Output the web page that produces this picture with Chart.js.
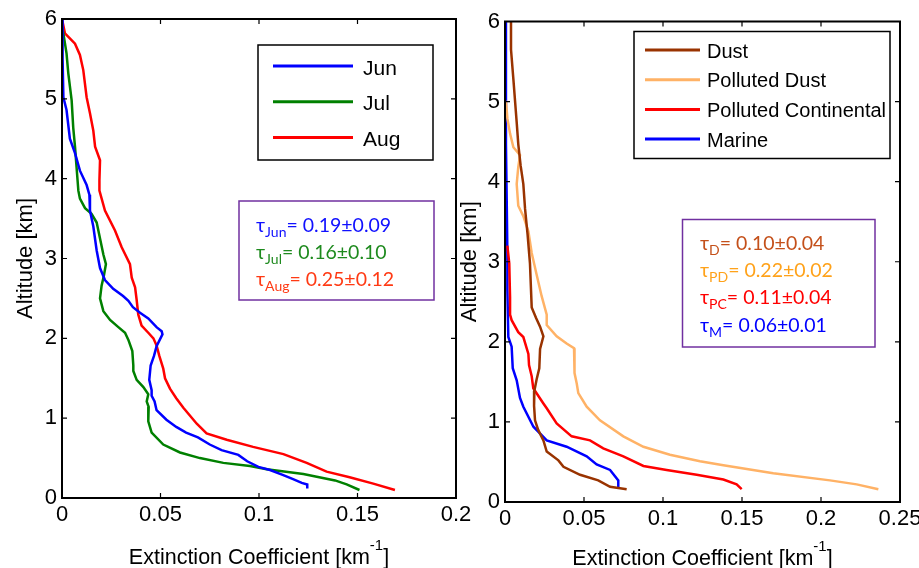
<!DOCTYPE html>
<html>
<head>
<meta charset="utf-8">
<script src="https://cdn.jsdelivr.net/npm/chart.js@4.4.0/dist/chart.umd.min.js"></script>
<style>
html,body{margin:0;padding:0;background:#fff;}
#wrap{position:relative;width:919px;height:568px;overflow:hidden;background:#fff;}
#c1{position:absolute;left:0;top:0;}
#c2{position:absolute;left:440px;top:0;}
</style>
</head>
<body>
<div id="wrap">
<canvas id="c1" width="480" height="568"></canvas>
<canvas id="c2" width="479" height="568"></canvas>
</div>
<script>
// ---------- DATA ----------
const altTicks = [0, 1, 2, 3, 4, 5, 6];
const extTicksLeft = [0, 0.05, 0.1, 0.15, 0.2];
const extTicksRight = [0, 0.05, 0.1, 0.15, 0.2, 0.25];
const xTitleMain = 'Extinction Coefficient [km';
const xTitleSup = '-1';
const xTitleEnd = ']';
const yTitle = 'Altitude [km]';

// Left panel: monthly profiles
const monthLabels = ['Jun', 'Jul', 'Aug'];
const junExt = [0,0.0003,0.0007,0.0023,0.004,0.0066,0.0091,0.0125,0.0139,0.0142,0.0159,0.0176,0.0193,0.0218,0.026,0.031,0.0337,0.036,0.0396,0.0438,0.048,0.0506,0.051,0.048,0.0467,0.045,0.0443,0.0455,0.0455,0.047,0.048,0.053,0.058,0.063,0.069,0.075,0.081,0.0895,0.094,0.0997,0.1056,0.112,0.117,0.1217,0.1245,0.1245];
const junAlt = [6.0,5.5,5.02,4.86,4.5,4.32,4.1,3.92,3.8,3.6,3.4,3.1,2.88,2.73,2.62,2.53,2.47,2.39,2.32,2.25,2.14,2.09,2.05,1.9,1.78,1.66,1.48,1.35,1.28,1.21,1.1,0.98,0.89,0.82,0.76,0.67,0.6,0.54,0.46,0.39,0.35,0.29,0.24,0.19,0.17,0.12];
const julExt = [0,0.0007,0.0023,0.0032,0.0049,0.0057,0.0066,0.0074,0.0083,0.0091,0.0117,0.015,0.0176,0.0193,0.021,0.0223,0.0213,0.0201,0.0193,0.021,0.0244,0.0286,0.032,0.0337,0.0357,0.0362,0.0362,0.0379,0.0413,0.0438,0.043,0.044,0.0438,0.0455,0.0514,0.0599,0.07,0.0819,0.0954,0.1039,0.1225,0.1386,0.1445,0.151];
const julAlt = [5.9,5.82,5.57,5.32,4.98,4.64,4.4,4.14,3.85,3.75,3.63,3.56,3.45,3.25,3.05,2.93,2.79,2.66,2.5,2.34,2.23,2.14,2.07,1.98,1.84,1.66,1.59,1.48,1.39,1.3,1.21,1.14,0.96,0.82,0.67,0.57,0.5,0.44,0.4,0.36,0.3,0.22,0.17,0.1];
const augExt = [0,0.0015,0.0066,0.0091,0.0108,0.0125,0.0142,0.0159,0.0168,0.0193,0.019,0.019,0.0218,0.0269,0.0303,0.0345,0.0354,0.0371,0.0379,0.0387,0.0404,0.0438,0.0464,0.048,0.0494,0.0514,0.0523,0.0548,0.058,0.0616,0.0684,0.0734,0.0836,0.097,0.1124,0.1242,0.1343,0.146,0.158,0.169];
const augAlt = [6.0,5.82,5.69,5.55,5.36,5.02,4.82,4.6,4.4,4.23,3.98,3.85,3.6,3.35,3.14,2.93,2.76,2.64,2.48,2.3,2.16,2.07,2.0,1.91,1.78,1.62,1.5,1.37,1.25,1.13,0.93,0.81,0.73,0.64,0.55,0.44,0.33,0.26,0.18,0.1];
const tauMonthSub = ['Jun', 'Jul', 'Aug'];
const tauMonthVal = ['0.19', '0.16', '0.25'];
const tauMonthErr = ['0.09', '0.10', '0.12'];

// Right panel: aerosol types
const typeLabels = ['Dust', 'Polluted Dust', 'Polluted Continental', 'Marine'];
const dustExt = [0.0038,0.0038,0.0053,0.0074,0.0084,0.0099,0.0116,0.0127,0.0143,0.0158,0.0169,0.0196,0.0222,0.0243,0.0222,0.0217,0.02,0.0186,0.0184,0.019,0.021,0.0243,0.0264,0.0338,0.037,0.0475,0.059,0.0665,0.077];
const dustAlt = [6.0,5.65,5.28,4.74,4.47,4.2,3.97,3.66,3.34,2.98,2.43,2.3,2.19,2.07,1.91,1.67,1.53,1.39,1.2,1.02,0.9,0.77,0.63,0.52,0.44,0.34,0.27,0.19,0.16];
const pdustExt = [0.0006,0.0015,0.0032,0.0053,0.0095,0.0084,0.0074,0.0084,0.0116,0.0148,0.0169,0.02,0.0232,0.0264,0.0264,0.0327,0.039,0.0437,0.0437,0.0443,0.0454,0.0464,0.0517,0.0601,0.0749,0.0876,0.1044,0.1234,0.1382,0.1698,0.2057,0.2226,0.2363];
const pdustAlt = [5.01,4.79,4.6,4.43,4.33,4.18,3.97,3.7,3.57,3.38,3.11,2.84,2.57,2.34,2.21,2.07,1.98,1.92,1.76,1.61,1.48,1.36,1.19,1.02,0.82,0.69,0.59,0.51,0.46,0.36,0.27,0.22,0.16];
const pcontExt = [0.0015,0.0027,0.0032,0.0032,0.0042,0.0084,0.0116,0.0148,0.0152,0.0169,0.0179,0.0243,0.0264,0.0327,0.0422,0.0538,0.0622,0.0749,0.0876,0.1023,0.1213,0.1382,0.1466,0.1498];
const pcontAlt = [3.2,2.98,2.56,2.34,2.27,2.12,2.06,1.85,1.71,1.57,1.42,1.23,1.17,0.98,0.82,0.77,0.67,0.57,0.45,0.4,0.34,0.28,0.22,0.16];
const marineExt = [0.0006,0.0006,0.0011,0.0015,0.0015,0.0021,0.0042,0.0049,0.0074,0.0095,0.0116,0.018,0.0264,0.039,0.0517,0.058,0.0665,0.0717,0.0717];
const marineAlt = [6.0,4.47,3.75,3.11,2.66,2.06,1.94,1.67,1.52,1.3,1.19,0.94,0.77,0.69,0.57,0.47,0.4,0.27,0.17];
const tauTypeSub = ['D', 'PD', 'PC', 'M'];
const tauTypeVal = ['0.10', '0.22', '0.11', '0.06'];
const tauTypeErr = ['0.04', '0.02', '0.04', '0.01'];

// ---------- STYLES ----------
const monthColors = ['#0000FF', '#008000', '#FF0000'];
const monthTauColors = ['#1010FF', '#1E8A1E', '#FF3A14'];
const typeColors = ['#993300', '#FFB266', '#FF0000', '#0000FF'];
const typeTauColors = ['#C4501A', '#FFA21A', '#FF0000', '#0000FF'];
const AX_FONT = '"Liberation Sans", Arial, Helvetica, sans-serif';
const TAU_FONT = 'Lato, "Open Sans", sans-serif';

function pts(xs, ys) { return xs.map((v, i) => ({ x: v, y: ys[i] })); }
function mkSet(label, xs, ys, color) {
  return { label, data: pts(xs, ys), borderColor: color, backgroundColor: color,
           borderWidth: 2.5, pointRadius: 0, showLine: true, fill: false, tension: 0 };
}

const decor = {
  id: 'decor',
  afterDatasetsDraw(chart, args, o) {
    const ctx = chart.ctx, a = chart.chartArea, xs = chart.scales.x, ys = chart.scales.y;
    ctx.save();
    // inward ticks on all four sides
    ctx.strokeStyle = '#000'; ctx.lineWidth = 1.2;
    ctx.beginPath();
    xs.ticks.forEach(t => {
      const p = xs.getPixelForValue(t.value);
      ctx.moveTo(p, a.bottom); ctx.lineTo(p, a.bottom - 5);
      ctx.moveTo(p, a.top); ctx.lineTo(p, a.top + 5);
    });
    ys.ticks.forEach(t => {
      const p = ys.getPixelForValue(t.value);
      ctx.moveTo(a.left, p); ctx.lineTo(a.left + 5, p);
      ctx.moveTo(a.right, p); ctx.lineTo(a.right - 5, p);
    });
    ctx.stroke();
    // box
    ctx.lineWidth = 2;
    ctx.strokeRect(a.left, a.top, a.right - a.left, a.bottom - a.top);

    // legend
    const L = o.legend;
    ctx.fillStyle = '#fff';
    ctx.fillRect(L.x, L.y, L.w, L.h);
    ctx.lineWidth = 1.5; ctx.strokeStyle = '#000';
    ctx.strokeRect(L.x, L.y, L.w, L.h);
    ctx.font = L.font + 'px ' + AX_FONT;
    ctx.textBaseline = 'middle'; ctx.textAlign = 'left';
    chart.data.datasets.forEach((ds, i) => {
      const yy = L.row0 + i * L.gap;
      ctx.strokeStyle = ds.borderColor; ctx.lineWidth = 3;
      ctx.beginPath(); ctx.moveTo(L.l1, yy); ctx.lineTo(L.l2, yy); ctx.stroke();
      ctx.fillStyle = '#000';
      ctx.fillText(ds.label, L.tx, yy + L.toff);
    });

    // tau box
    const T = o.tau;
    ctx.lineWidth = 1.5; ctx.strokeStyle = '#7030A0';
    ctx.strokeRect(T.x, T.y, T.w, T.h);
    ctx.textBaseline = 'alphabetic';
    T.sub.forEach((s, i) => {
      const by = T.base0 + i * T.gap;
      let xx = T.tx;
      ctx.fillStyle = T.colors[i];
      ctx.font = T.font + 'px ' + TAU_FONT;
      ctx.fillText('\u03C4', xx, by); xx += ctx.measureText('\u03C4').width;
      ctx.font = T.subFont + 'px ' + TAU_FONT;
      ctx.fillText(s, xx, by + 5); xx += ctx.measureText(s).width;
      ctx.font = T.font + 'px ' + TAU_FONT;
      ctx.fillText('= ' + T.val[i] + '\u00B1' + T.err[i], xx, by);
    });

    // x axis title with superscript
    ctx.fillStyle = '#000';
    const mf = o.titleFont + 'px ' + AX_FONT, sf = Math.round(o.titleFont * 0.68) + 'px ' + AX_FONT;
    ctx.font = mf; const w1 = ctx.measureText(xTitleMain).width, w3 = ctx.measureText(xTitleEnd).width;
    ctx.font = sf; const w2 = ctx.measureText(xTitleSup).width;
    let sx = (a.left + a.right) / 2 - (w1 + w2 + w3) / 2;
    ctx.font = mf; ctx.fillText(xTitleMain, sx, o.xTitleBase); sx += w1;
    ctx.font = sf; ctx.fillText(xTitleSup, sx, o.xTitleBase - 14); sx += w2;
    ctx.font = mf; ctx.fillText(xTitleEnd, sx, o.xTitleBase);

    // y axis title
    ctx.save();
    ctx.translate(o.yTitleX, (a.top + a.bottom) / 2);
    ctx.rotate(-Math.PI / 2);
    ctx.textAlign = 'center'; ctx.textBaseline = 'alphabetic';
    ctx.font = o.yTitleFont + 'px ' + AX_FONT;
    ctx.fillText(yTitle, 0, 0);
    ctx.restore();

    ctx.restore();
  }
};

function build(id, datasets, xMax, xTicks, geo, decorOpts) {
  const tickFont = { family: AX_FONT, size: 22 };
  return new Chart(document.getElementById(id), {
    type: 'scatter',
    data: { datasets },
    plugins: [decor],
    options: {
      responsive: false, animation: false, devicePixelRatio: 1,
      layout: { padding: { left: 0, top: geo.top, right: geo.right, bottom: 0 } },
      plugins: { legend: { display: false }, tooltip: { enabled: false }, decor: decorOpts },
      scales: {
        x: {
          type: 'linear', min: 0, max: xMax, position: 'bottom',
          grid: { display: false, drawTicks: false }, border: { display: false },
          afterBuildTicks: s => { s.ticks = xTicks.map(v => ({ value: v })); },
          afterFit: s => { s.height = geo.xAxisH; s.paddingLeft = 0; s.paddingRight = 0; },
          ticks: { font: tickFont, color: '#000', padding: geo.xPad, maxRotation: 0, autoSkip: false,
                   callback: v => String(v) }
        },
        y: {
          type: 'linear', min: 0, max: 6, position: 'left',
          grid: { display: false, drawTicks: false }, border: { display: false },
          afterBuildTicks: s => { s.ticks = altTicks.map(v => ({ value: v })); },
          afterFit: s => { s.width = geo.yAxisW; s.paddingTop = 0; s.paddingBottom = 0; },
          ticks: { font: tickFont, color: '#000', padding: 5, autoSkip: false,
                   callback: v => String(v) }
        }
      }
    }
  });
}

build('c1', [
  mkSet(monthLabels[0], junExt, junAlt, monthColors[0]),
  mkSet(monthLabels[1], julExt, julAlt, monthColors[1]),
  mkSet(monthLabels[2], augExt, augAlt, monthColors[2])
], 0.2, extTicksLeft,
{ top: 19, right: 24, yAxisW: 62, xAxisH: 70, xPad: 4 },
{ legend: { x: 258, y: 45, w: 175, h: 115, l1: 273, l2: 353, tx: 363, row0: 66, gap: 35.7, toff: 3, font: 21 },
  tau: { x: 239, y: 201, w: 195, h: 99, tx: 256, base0: 232, gap: 27, font: 19.5, subFont: 14,
         sub: tauMonthSub, val: tauMonthVal, err: tauMonthErr, colors: monthTauColors },
  titleFont: 21.5, xTitleBase: 564, yTitleX: 32, yTitleFont: 22 });

build('c2', [
  mkSet(typeLabels[0], dustExt, dustAlt, typeColors[0]),
  mkSet(typeLabels[1], pdustExt, pdustAlt, typeColors[1]),
  mkSet(typeLabels[2], pcontExt, pcontAlt, typeColors[2]),
  mkSet(typeLabels[3], marineExt, marineAlt, typeColors[3])
], 0.25, extTicksRight,
{ top: 21.5, right: 19, yAxisW: 65, xAxisH: 66, xPad: 4 },
{ legend: { x: 194, y: 31.5, w: 256, h: 127, l1: 205, l2: 260, tx: 267, row0: 50, gap: 29.7, toff: 2, font: 20 },
  tau: { x: 242.5, y: 219.5, w: 192.5, h: 127.5, tx: 260, base0: 250, gap: 27.2, font: 19.5, subFont: 14,
         sub: tauTypeSub, val: tauTypeVal, err: tauTypeErr, colors: typeTauColors },
  titleFont: 21.5, xTitleBase: 565, yTitleX: 36, yTitleFont: 22 });
</script>
</body>
</html>
